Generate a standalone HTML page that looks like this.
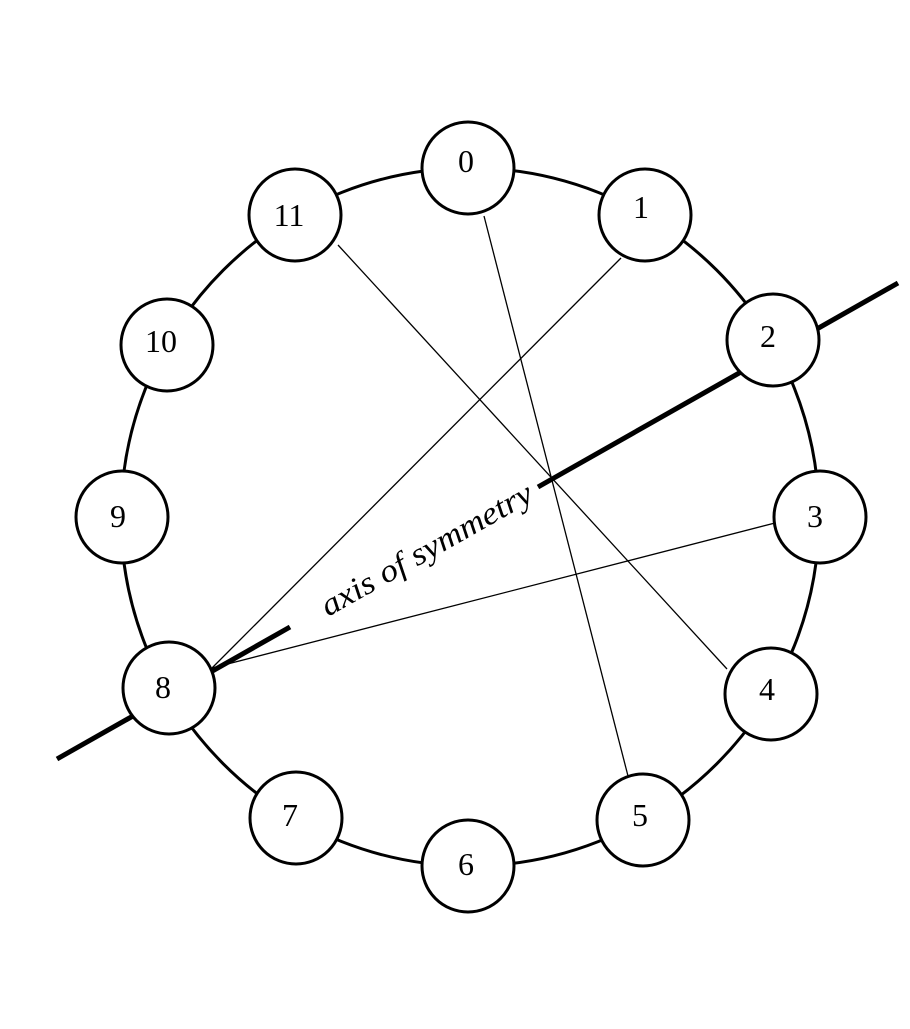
<!DOCTYPE html>
<html><head><meta charset="utf-8"><style>body{margin:0;background:#fff}</style></head><body>
<svg width="910" height="1024" viewBox="0 0 910 1024" xmlns="http://www.w3.org/2000/svg">
<circle cx="470" cy="517" r="349" fill="none" stroke="#000" stroke-width="3"/>
<g stroke="#000" stroke-width="1.3">
<line x1="484" y1="216" x2="628" y2="776"/>
<line x1="338" y1="245" x2="727" y2="669"/>
<line x1="621" y1="258" x2="210" y2="670"/>
<line x1="775" y1="523" x2="212" y2="668"/>
</g>
<g stroke="#000" stroke-width="5">
<line x1="57" y1="759" x2="290" y2="627"/>
<line x1="538" y1="487" x2="898" y2="283"/>
</g>
<text transform="translate(328,617) rotate(-29.5)" font-family="Liberation Serif, serif" font-style="italic" font-size="32" textLength="238" lengthAdjust="spacingAndGlyphs">axis of symmetry</text>
<g fill="#fff" stroke="#000" stroke-width="3">
<circle cx="468" cy="168" r="46"/><circle cx="645" cy="215" r="46"/><circle cx="773" cy="340" r="46"/>
<circle cx="820" cy="517" r="46"/><circle cx="771" cy="694" r="46"/><circle cx="643" cy="820" r="46"/>
<circle cx="468" cy="866" r="46"/><circle cx="296" cy="818" r="46"/><circle cx="169" cy="688" r="46"/>
<circle cx="122" cy="517" r="46"/><circle cx="167" cy="345" r="46"/><circle cx="295" cy="215" r="46"/>
</g>
<g font-family="Liberation Serif, serif" font-size="32" text-anchor="middle">
<text x="466" y="172">0</text><text x="641" y="218">1</text><text x="768" y="347">2</text>
<text x="815" y="527">3</text><text x="767" y="700">4</text><text x="640" y="826">5</text>
<text x="466" y="875">6</text><text x="290" y="826">7</text><text x="163" y="698">8</text>
<text x="118" y="527">9</text><text x="161" y="352">10</text><text x="289" y="226">11</text>
</g>
</svg>
</body></html>
